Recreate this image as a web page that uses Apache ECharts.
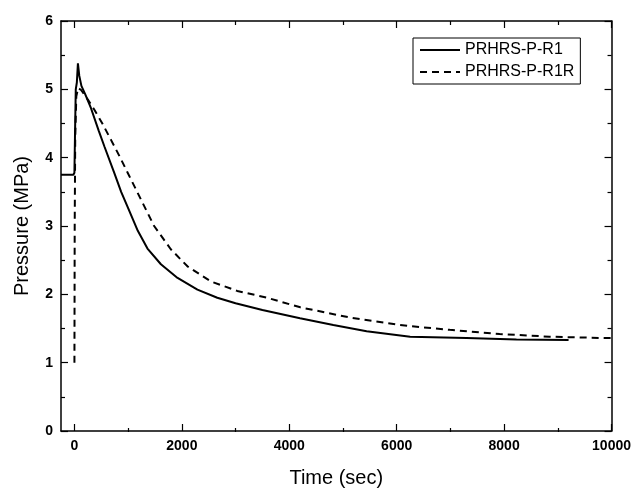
<!DOCTYPE html>
<html>
<head>
<meta charset="utf-8">
<script src="https://cdn.jsdelivr.net/npm/echarts@6/dist/echarts.min.js"></script>
<style>
html,body{margin:0;padding:0;background:#fff;}
#chart{width:634px;height:493px;}
</style>
</head>
<body>
<div id="chart"></div>
<script>
// ---- data ----
var timeR1 = [-250,-20,0,10,25,45,65,90,130,200,310,450,560,740,870,990,1180,1360,1610,1920,2290,2660,3000,3500,4200,4820,5440,6250,7300,8230,9200];
var presR1 = [3.75,3.75,3.78,4.3,5.0,5.1,5.38,5.2,5.05,4.93,4.72,4.40,4.16,3.78,3.50,3.28,2.93,2.67,2.44,2.24,2.07,1.95,1.87,1.77,1.65,1.55,1.46,1.38,1.36,1.34,1.33];
var timeR1R = [0,5,15,35,70,124,250,371,520,681,840,991,1237,1484,1794,2104,2536,3032,3588,4206,5134,6061,6989,7917,8844,9896,10000];
var presR1R = [1.0,3.0,4.3,4.9,5.02,4.99,4.85,4.70,4.50,4.26,4.02,3.78,3.39,3.00,2.66,2.41,2.19,2.05,1.95,1.81,1.66,1.55,1.48,1.42,1.38,1.36,1.36];
var xMajorTicks = [0,2000,4000,6000,8000,10000];
var xMinorTicks = [1000,3000,5000,7000,9000];
var seriesNames = ['PRHRS-P-R1','PRHRS-P-R1R'];
var xTitle = 'Time (sec)';
var yTitle = 'Pressure (MPa)';

function pairs(xs, ys){ return xs.map(function(x,i){ return [x, ys[i]]; }); }

var FONT = "'Liberation Sans', Arial, sans-serif";
var gridRect = {left:61, right:22, top:21, bottom:61};
var axisLine = {show:true, onZero:false, lineStyle:{color:'#000', width:1.5}};
var noLine = {show:false, onZero:false};
var tickStyle = {color:'#000', width:1.2};

var chart = echarts.init(document.getElementById('chart'));
chart.setOption({
  animation:false,
  backgroundColor:'#fff',
  grid:[
    Object.assign({}, gridRect),
    Object.assign({}, gridRect)
  ],
  legend:{
    left:413, top:38, orient:'vertical',
    borderColor:'#000', borderWidth:1, padding:[4,6],
    itemGap:6, itemWidth:40, itemHeight:14,
    itemStyle:{opacity:0},
    textStyle:{fontFamily:FONT, fontSize:16, color:'#000'},
    data:seriesNames
  },
  xAxis:[
    {type:'value', gridIndex:0, position:'bottom', min:-250, max:10000,
     axisLine:axisLine, splitLine:{show:false},
     axisTick:{show:true, inside:true, length:7, customValues:xMajorTicks, lineStyle:tickStyle},
     axisLabel:{show:true, customValues:xMajorTicks, formatter:function(v){return String(v);},
                fontFamily:FONT, fontSize:14, fontWeight:'bold', color:'#000', margin:8},
     name:xTitle, nameLocation:'middle', nameGap:37,
     nameTextStyle:{fontFamily:FONT, fontSize:20, color:'#000'}},
    {type:'value', gridIndex:0, position:'top', min:-250, max:10000,
     axisLine:axisLine, splitLine:{show:false},
     axisTick:{show:true, inside:true, length:7, customValues:xMajorTicks, lineStyle:tickStyle},
     axisLabel:{show:false}},
    {type:'value', gridIndex:1, position:'bottom', min:-250, max:10000,
     axisLine:noLine, splitLine:{show:false},
     axisTick:{show:true, inside:true, length:4, customValues:xMinorTicks, lineStyle:tickStyle},
     axisLabel:{show:false}},
    {type:'value', gridIndex:1, position:'top', min:-250, max:10000,
     axisLine:noLine, splitLine:{show:false},
     axisTick:{show:true, inside:true, length:4, customValues:xMinorTicks, lineStyle:tickStyle},
     axisLabel:{show:false}}
  ],
  yAxis:[
    {type:'value', gridIndex:0, position:'left', min:0, max:6, interval:1,
     axisLine:axisLine, splitLine:{show:false},
     axisTick:{show:true, inside:true, length:7, lineStyle:tickStyle},
     minorTick:{show:true, splitNumber:2, length:4, lineStyle:tickStyle},
     axisLabel:{fontFamily:FONT, fontSize:14, fontWeight:'bold', color:'#000', margin:8},
     name:yTitle, nameLocation:'middle', nameGap:29,
     nameTextStyle:{fontFamily:FONT, fontSize:20, color:'#000'}},
    {type:'value', gridIndex:0, position:'right', min:0, max:6, interval:1,
     axisLine:axisLine, splitLine:{show:false},
     axisTick:{show:true, inside:true, length:7, lineStyle:tickStyle},
     minorTick:{show:true, splitNumber:2, length:4, lineStyle:tickStyle},
     axisLabel:{show:false}},
    {type:'value', gridIndex:1, min:0, max:6, show:false}
  ],
  series:[
    {name:seriesNames[0], type:'line', xAxisIndex:0, yAxisIndex:0,
     data:pairs(timeR1, presR1), symbol:'none', smooth:false,
     lineStyle:{color:'#000', width:2, type:'solid'}, itemStyle:{color:'#000'}},
    {name:seriesNames[1], type:'line', xAxisIndex:0, yAxisIndex:0,
     data:pairs(timeR1R, presR1R), symbol:'none', smooth:false,
     lineStyle:{color:'#000', width:2, type:[7,5]}, itemStyle:{color:'#000'}}
  ]
});
</script>
</body>
</html>
